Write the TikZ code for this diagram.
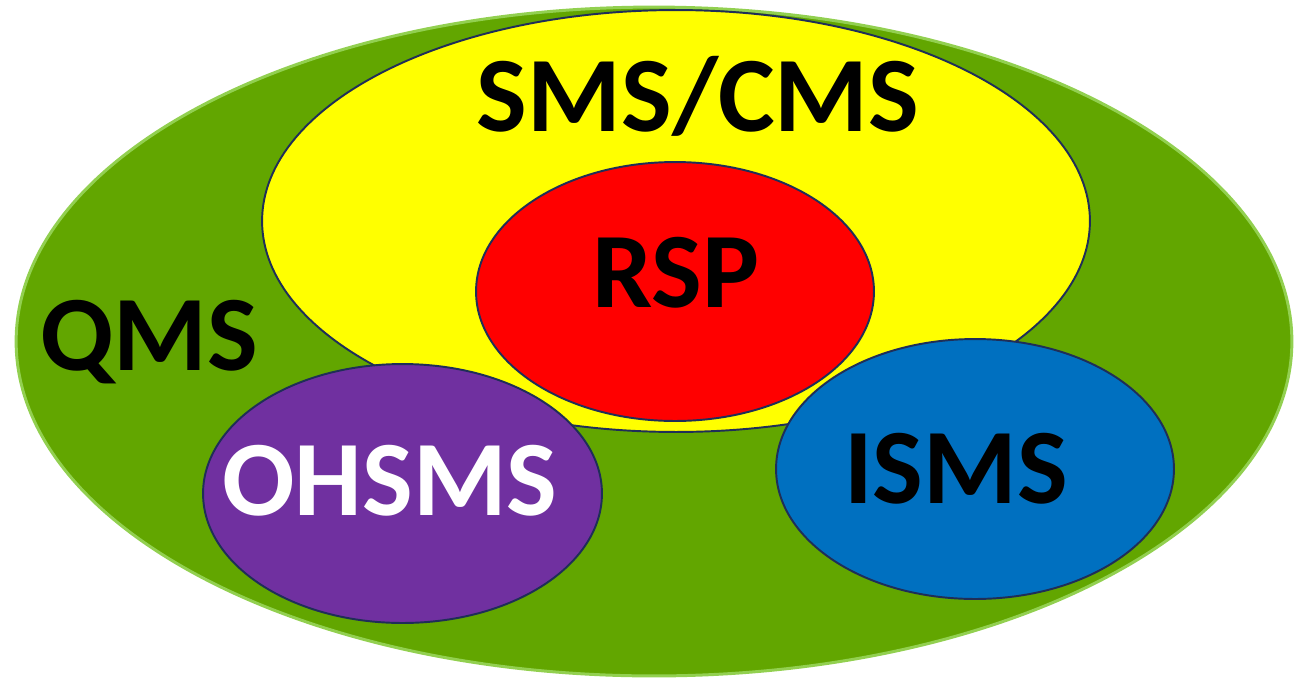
\documentclass[tikz,border=0pt]{standalone}
\usepackage{fontspec}
\setmainfont{Carlito}
\usetikzlibrary{shapes.geometric}

\definecolor{qmsgreen}{RGB}{98,166,0}
\definecolor{qmsrim}{RGB}{146,208,80}
\definecolor{rimnavy}{RGB}{31,46,88}
\definecolor{smsyellow}{RGB}{255,255,0}
\definecolor{rspred}{RGB}{255,0,0}
\definecolor{ohspurple}{RGB}{112,48,160}
\definecolor{isblue}{RGB}{0,112,192}

\begin{document}
\begin{tikzpicture}%
        [x={(0.02cm, 0cm)},
        y={(0cm, -0.02cm)},
        blob/.style={ellipse, inner sep=0pt, draw=rimnavy, line width=1.1pt},
        tag/.style={anchor=base, inner sep=0pt, font=\fontsize{61}{61}\selectfont\bfseries}]

    \useasboundingbox (0,0) rectangle (1304,677);
    %% Drawing the ellipses
    \node[blob, draw=qmsrim, line width=1.7pt, fill=qmsgreen,
          minimum width=25.52cm, minimum height=13.38cm] (qms) at (654,341.5) {};
    \node[blob, fill=smsyellow, minimum width=16.56cm, minimum height=8.44cm] (sms) at (676,221) {};
    \node[blob, fill=rspred, minimum width=7.96cm, minimum height=5.18cm] (rsp) at (675,291.5) {};
    \node[blob, fill=ohspurple, minimum width=7.98cm, minimum height=5.18cm] (ohsms) at (402.5,493.5) {};
    \node[blob, fill=isblue, minimum width=7.96cm, minimum height=5.2cm] (isms) at (975,469) {};
    %%
    %% Drawing the labels
    %%
    \node[tag] (smstext) at (698,131) {SMS/CMS};
    \node[tag] (rsptext) at (676,307) {RSP};
    \node[tag] (qmstext) at (149,370) {QMS};
    \node[tag, text=white] (ohsmstext) at (390,515) {OHSMS};
    \node[tag] (ismstext) at (956,503) {ISMS};
    %%
\end{tikzpicture}
\end{document}
